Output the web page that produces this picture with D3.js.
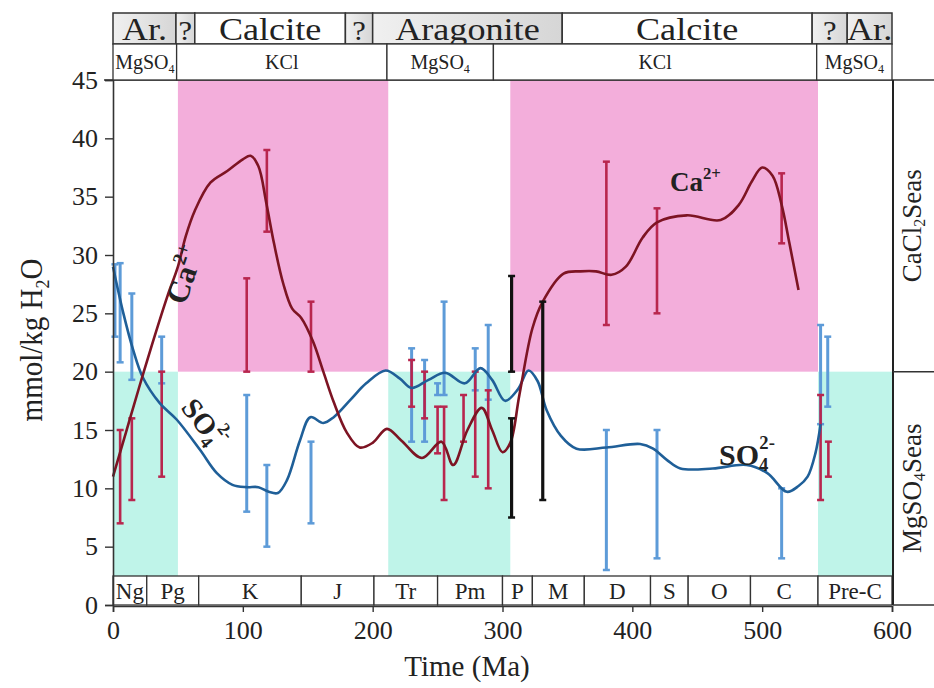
<!DOCTYPE html>
<html>
<head>
<meta charset="utf-8">
<script src="https://cdn.jsdelivr.net/npm/d3@7"></script>
<style>
  body { margin: 0; background: #fff; }
  svg text { font-family: "Liberation Serif", "DejaVu Serif", serif; fill: #222; }
</style>
</head>
<body>
<svg id="chart" width="934" height="688"></svg>
<script>
// curves, [Ma, mmol/kg]
var caCurve = [[0,11],[10,14.8],[20,18.6],[30,22.3],[42,26.5],[50,29],[56,31.6],[63,33.8],[75,36.2],[88,37.2],[100,38.2],[106,38.5],[112,37.6],[118,34.5],[124,31],[131,27.6],[138,25.4],[145,24.6],[154,22.6],[162,20],[170,17.4],[180,14.8],[190,13.5],[200,13.9],[211,15.1],[222,14.1],[238,12.6],[253,14],[262,12],[273,15],[284,16.9],[292,15],[300,13.1],[306,13.9],[313,18],[323,23.7],[331,26],[347,28.4],[360,28.6],[372,28.6],[384,28.3],[395,29],[408,31.5],[419,32.8],[442,33.4],[468,33],[482,34.3],[492,36.3],[500,37.5],[508,36.8],[515,34.3],[521,31],[528,27]];
var so4Curve = [[0,29],[8,25],[15.7,21.8],[23,19.5],[36,17.3],[49,15.9],[67,13.3],[80,11.3],[92,10.3],[103,10.1],[112,10.1],[120,9.7],[127,9.6],[134,10.7],[144,14.1],[152,16.1],[162,15.6],[170,16.1],[183,17.6],[195,19],[210,20.1],[221,19.4],[230,18.6],[243,19.3],[256,19.9],[271,19],[283,20.3],[292,19.3],[302,17.5],[312,18.5],[320,20.1],[327,19.2],[334,16.7],[345,14.5],[357,13.4],[380,13.5],[406,13.8],[416,13.4],[427,12.4],[437,11.7],[462,11.7],[488,12],[504,11.3],[519,9.7],[528,10.2],[535,11],[541,13],[545,15.5]];

// error bars, [Ma, low, high]
var caBars = [[5.5,7,15],[14.5,9,16],[37.5,11,20],[103,20,28],[118.5,32,39],[152.5,20,26],[230,17,21],[240,16,20],[250,13,17],[255,9,17],[270,14,18],[279,11,20],[289,10,18.4],[380,24,38],[419,25,34],[515,31,37],[545,9,18],[551,11,14]];
var so4Bars = [[1.5,23,29.2],[5.5,20.8,29.3],[14.5,19.3,26.7],[37.5,19,23],[103,8,18],[118.5,5,12],[152.5,7,14],[230,14,22],[240,14,21],[250,18,19],[255,18,26],[279,18.4,22],[289,17.6,24],[380,3,15],[419,4,15],[515,4,10],[545,15.5,24],[550.5,17,23]];
var blackBars = [[307,20,28.2],[307,7.5,16],[331,9,26]];

// shaded sea-chemistry bands, [from Ma, to Ma]
var cyanBands = [[0,50],[212,306],[543,600]];
var pinkBands = [[50,212],[306,543]];

// top banner
var mineralEdges = [0,48.5,63,179,200,346,538.5,565.5,600];
var mineralNames = ["Ar.","?","Calcite","?","Aragonite","Calcite","?","Ar."];
var mineralGray = [true,true,false,true,true,false,true,true];
var saltEdges = [0,49,211,293,542,600];
var saltNames = ["MgSO4","KCl","MgSO4","KCl","MgSO4"];

// periods along the bottom
var periodEdges = [0,26,66,145,201,250,300,323,363,414,443,491,543,600];
var periodNames = ["Ng","Pg","K","J","Tr","Pm","P","M","D","S","O","C","Pre-C"];

var yTicks = [0,5,10,15,20,25,30,35,40,45];
var xTicks = [0,100,200,300,400,500,600];

var svg = d3.select("#chart");
var x = d3.scaleLinear().domain([0, 600]).range([113, 892]);
var y = d3.scaleLinear().domain([0, 45]).range([605, 80]);

var pink = "#f3aedb", cyan = "#bff4e9";

svg.selectAll("rect.cyan").data(cyanBands).enter().append("rect")
  .attr("x", d => x(d[0])).attr("width", d => x(d[1]) - x(d[0]))
  .attr("y", y(20)).attr("height", y(0) - y(20)).attr("fill", cyan);
svg.selectAll("rect.pink").data(pinkBands).enter().append("rect")
  .attr("x", d => x(d[0])).attr("width", d => x(d[1]) - x(d[0]))
  .attr("y", y(45)).attr("height", y(20) - y(45)).attr("fill", pink);

// period strip
var stripTop = 576;
var periods = svg.append("g");
periodNames.forEach(function(n, i) {
  var x0 = x(periodEdges[i]), x1 = x(periodEdges[i + 1]);
  periods.append("rect").attr("x", x0).attr("y", stripTop).attr("width", x1 - x0).attr("height", y(0) - stripTop)
    .attr("fill", "#fff").attr("stroke", "#333").attr("stroke-width", 1.3);
  periods.append("text").attr("x", (x0 + x1) / 2).attr("y", stripTop + 23).attr("text-anchor", "middle")
    .attr("font-size", 23).text(n);
});

// error bars
function drawBars(data, color, width) {
  var g = svg.append("g").attr("stroke", color).attr("stroke-width", width);
  data.forEach(function(d) {
    var cx = x(d[0]);
    g.append("line").attr("x1", cx).attr("x2", cx).attr("y1", y(d[1])).attr("y2", y(d[2]));
    g.append("line").attr("x1", cx - 3.5).attr("x2", cx + 3.5).attr("y1", y(d[1])).attr("y2", y(d[1])).attr("stroke-width", 2.5);
    g.append("line").attr("x1", cx - 3.5).attr("x2", cx + 3.5).attr("y1", y(d[2])).attr("y2", y(d[2])).attr("stroke-width", 2.5);
  });
}
drawBars(so4Bars, "#5d9bd8", 3);
drawBars(caBars, "#b8264e", 2.6);

var line = d3.line().x(d => x(d[0])).y(d => y(d[1])).curve(d3.curveCatmullRom.alpha(0.5));
svg.append("path").attr("d", line(so4Curve)).attr("fill", "none").attr("stroke", "#1f5f98").attr("stroke-width", 2.6);
svg.append("path").attr("d", line(caCurve)).attr("fill", "none").attr("stroke", "#7d1423").attr("stroke-width", 2.6);
drawBars(blackBars, "#111", 3.2);

// axes
var yAxis = svg.append("g").attr("transform", "translate(113,0)")
  .call(d3.axisLeft(y).tickValues(yTicks).tickSize(8).tickPadding(7));
yAxis.selectAll("text").attr("font-size", 26).attr("fill", "#222");
yAxis.selectAll("line, path").attr("stroke", "#333").attr("stroke-width", 1.4);

var xAxis = svg.append("g").attr("transform", "translate(0,606)")
  .call(d3.axisBottom(x).tickValues(xTicks).tickSize(6).tickPadding(9));
xAxis.selectAll("text").attr("font-size", 26).attr("fill", "#222");
xAxis.selectAll("line, path").attr("stroke", "#333").attr("stroke-width", 1.4);
svg.selectAll(".domain").attr("stroke-width", 1.6);

// top and right frame
svg.append("line").attr("x1", 104).attr("x2", 934).attr("y1", y(45)).attr("y2", y(45)).attr("stroke", "#333").attr("stroke-width", 1.5);
svg.append("line").attr("x1", 893).attr("x2", 893).attr("y1", y(45)).attr("y2", y(0)).attr("stroke", "#222").attr("stroke-width", 2);
svg.append("line").attr("x1", 893).attr("x2", 934).attr("y1", y(20)).attr("y2", y(20)).attr("stroke", "#333").attr("stroke-width", 1.5);
svg.append("line").attr("x1", 893).attr("x2", 934).attr("y1", y(0)).attr("y2", y(0)).attr("stroke", "#333").attr("stroke-width", 1.5);

// banner
var grad = svg.append("defs").append("linearGradient").attr("id", "gry").attr("x1", 0).attr("x2", 1);
grad.append("stop").attr("offset", 0).attr("stop-color", "#f0f0f0");
grad.append("stop").attr("offset", 1).attr("stop-color", "#d6d6d6");
var banner = svg.append("g");
mineralNames.forEach(function(n, i) {
  var x0 = x(mineralEdges[i]), x1 = x(mineralEdges[i + 1]);
  banner.append("rect").attr("x", x0).attr("y", 13).attr("width", x1 - x0).attr("height", 31)
    .attr("fill", mineralGray[i] ? "url(#gry)" : "#fff").attr("stroke", "#333").attr("stroke-width", 1.5);
  banner.append("text").attr("transform", "translate(" + (x0 + x1) / 2 + ",40) scale(1.13,1)")
    .attr("text-anchor", "middle").attr("font-size", n == "?" ? 27 : 32).text(n);
});
saltNames.forEach(function(n, i) {
  var x0 = x(saltEdges[i]), x1 = x(saltEdges[i + 1]);
  banner.append("rect").attr("x", x0).attr("y", 44).attr("width", x1 - x0).attr("height", y(45) - 44)
    .attr("fill", "#fff").attr("stroke", "#333").attr("stroke-width", 1.3);
  var t = banner.append("text").attr("x", (x0 + x1) / 2).attr("y", 69).attr("text-anchor", "middle").attr("font-size", 20);
  if (n == "MgSO4") {
    t.append("tspan").text("MgSO");
    t.append("tspan").attr("font-size", 12).attr("dy", 4).text("4");
  } else t.text(n);
});

// right side labels
function seaLabel(cy, head, sub, tail) {
  var t = svg.append("text").attr("transform", "translate(921," + cy + ") rotate(-90)")
    .attr("text-anchor", "middle").attr("font-size", 27);
  t.append("tspan").text(head);
  t.append("tspan").attr("font-size", 16).attr("dy", 4).text(sub);
  t.append("tspan").attr("dy", -4).text(tail);
}
seaLabel((y(45) + y(20)) / 2, "CaCl", "2", "Seas");
seaLabel((y(20) + y(0)) / 2, "MgSO", "4", "Seas");

// axis titles
var yt = svg.append("text").attr("transform", "translate(42,340) rotate(-90) scale(1,1.1)").attr("text-anchor", "middle").attr("font-size", 29);
yt.append("tspan").text("mmol/kg H");
yt.append("tspan").attr("font-size", 18).attr("dy", 6).text("2");
yt.append("tspan").attr("dy", -6).text("O");
svg.append("text").attr("x", 467).attr("y", 676).attr("text-anchor", "middle").attr("font-size", 29).text("Time (Ma)");

// curve labels
function ionLabel(px, py, rot, base, sub, sup, size) {
  var t = svg.append("text").attr("transform", "translate(" + px + "," + py + ") rotate(" + rot + ")")
    .attr("font-size", size).attr("font-weight", "bold").attr("fill", "#111");
  t.append("tspan").text(base);
  if (sub) t.append("tspan").attr("font-size", size * 0.62).attr("dy", 6).text(sub);
  t.append("tspan").attr("font-size", size * 0.62).attr("dy", sub ? -(size * 0.75) : -(size * 0.45)).attr("dx", sub ? -size * 0.3 : 0).text(sup);
}
ionLabel(185, 306, -71, "Ca", null, "2+", 31);
ionLabel(180, 408, 52, "SO", "4", "2-", 29);
ionLabel(670, 191, 0, "Ca", null, "2+", 27);
ionLabel(719, 465, 0, "SO", "4", "2-", 30);
</script>
</body>
</html>
